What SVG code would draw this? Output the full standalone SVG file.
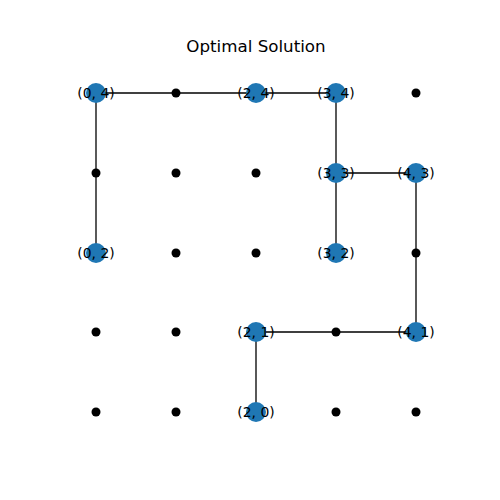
<svg xmlns="http://www.w3.org/2000/svg" width="500" height="500" viewBox="0 0 500 500">
<style>
.e{stroke:#000;stroke-width:1.3;fill:none}
.d{fill:#000}
.n{fill:#1f77b4}
.l{font-family:"DejaVu Sans",sans-serif;font-size:13.9px;text-anchor:middle;dominant-baseline:central;fill:#000}
.t{font-family:"DejaVu Sans",sans-serif;font-size:16.7px;text-anchor:middle;fill:#000}
</style>
<rect width="500" height="500" fill="#fff"/>
<text class="t" x="256" y="52">Optimal Solution</text>
<g id="connectors">
<path class="e" d="M96,93H336"/>
<path class="e" d="M96,93V253"/>
<path class="e" d="M336,93V253"/>
<path class="e" d="M336,173H416V332"/>
<path class="e" d="M416,332H256V412"/>
</g>
<g id="dots">
<circle class="d" cx="176" cy="93" r="4.5"/>
<circle class="d" cx="416" cy="93" r="4.5"/>
<circle class="d" cx="96" cy="173" r="4.5"/>
<circle class="d" cx="176" cy="173" r="4.5"/>
<circle class="d" cx="256" cy="173" r="4.5"/>
<circle class="d" cx="176" cy="253" r="4.5"/>
<circle class="d" cx="256" cy="253" r="4.5"/>
<circle class="d" cx="416" cy="253" r="4.5"/>
<circle class="d" cx="96" cy="332" r="4.5"/>
<circle class="d" cx="176" cy="332" r="4.5"/>
<circle class="d" cx="336" cy="332" r="4.5"/>
<circle class="d" cx="96" cy="412" r="4.5"/>
<circle class="d" cx="176" cy="412" r="4.5"/>
<circle class="d" cx="336" cy="412" r="4.5"/>
<circle class="d" cx="416" cy="412" r="4.5"/>
</g>
<g id="n04"><circle class="n" cx="96" cy="93" r="10"/><text class="l" x="96" y="93">(0, 4)</text></g>
<g id="n24"><circle class="n" cx="256" cy="93" r="10"/><text class="l" x="256" y="93">(2, 4)</text></g>
<g id="n34"><circle class="n" cx="336" cy="93" r="10"/><text class="l" x="336" y="93">(3, 4)</text></g>
<g id="n33"><circle class="n" cx="336" cy="173" r="10"/><text class="l" x="336" y="173">(3, 3)</text></g>
<g id="n43"><circle class="n" cx="416" cy="173" r="10"/><text class="l" x="416" y="173">(4, 3)</text></g>
<g id="n02"><circle class="n" cx="96" cy="253" r="10"/><text class="l" x="96" y="253">(0, 2)</text></g>
<g id="n32"><circle class="n" cx="336" cy="253" r="10"/><text class="l" x="336" y="253">(3, 2)</text></g>
<g id="n21"><circle class="n" cx="256" cy="332" r="10"/><text class="l" x="256" y="332">(2, 1)</text></g>
<g id="n41"><circle class="n" cx="416" cy="332" r="10"/><text class="l" x="416" y="332">(4, 1)</text></g>
<g id="n20"><circle class="n" cx="256" cy="412" r="10"/><text class="l" x="256" y="412">(2, 0)</text></g>
</svg>
